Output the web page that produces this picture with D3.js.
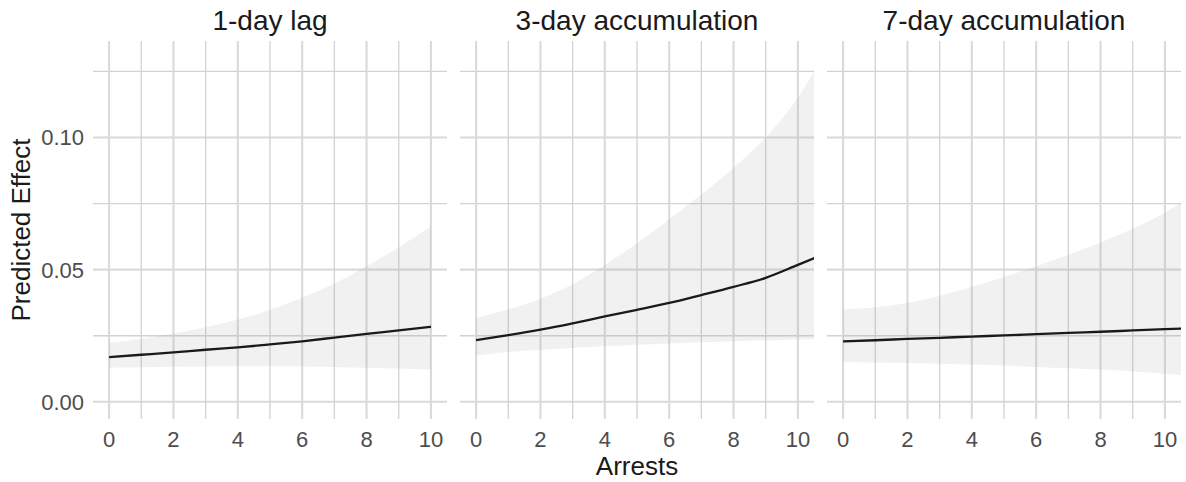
<!DOCTYPE html>
<html>
<head>
<meta charset="utf-8">
<script src="https://cdn.jsdelivr.net/npm/d3@7"></script>
<style>
  html, body { margin: 0; padding: 0; background: #fff; }
  svg { display: block; }
  text { font-family: "Liberation Sans", Arial, Helvetica, sans-serif; }
</style>
</head>
<body>
<svg id="chart" width="1186" height="482"></svg>
<script>
// ---- Data ----
const panelTitles = ["1-day lag", "3-day accumulation", "7-day accumulation"];
const arrests1 = [0, 1, 2, 3, 4, 5, 6, 7, 8, 9, 10];
const arrests = [0, 1, 2, 3, 4, 5, 6, 7, 8, 9, 10, 11];

const lag1Fit = [0.0169, 0.0178, 0.0187, 0.0197, 0.0206, 0.0217, 0.0229, 0.0243, 0.0257, 0.0270, 0.0284];
const lag1Lo  = [0.0129, 0.0131, 0.0133, 0.0134, 0.0135, 0.0135, 0.0134, 0.0132, 0.0129, 0.0126, 0.0122];
const lag1Hi  = [0.0223, 0.0238, 0.0258, 0.0282, 0.0311, 0.0348, 0.0394, 0.0448, 0.0513, 0.0585, 0.0663];

const acc3Fit = [0.0233, 0.0252, 0.0273, 0.0297, 0.0323, 0.0348, 0.0374, 0.0404, 0.0435, 0.0469, 0.0518, 0.0568];
const acc3Lo  = [0.0175, 0.0188, 0.0197, 0.0204, 0.0210, 0.0216, 0.0221, 0.0225, 0.0229, 0.0233, 0.0236, 0.0240];
const acc3Hi  = [0.0318, 0.0350, 0.0390, 0.0445, 0.0518, 0.0600, 0.0690, 0.0785, 0.0885, 0.1000, 0.1150, 0.1360];

const acc7Fit = [0.0229, 0.0233, 0.0238, 0.0242, 0.0247, 0.0251, 0.0256, 0.0261, 0.0265, 0.0270, 0.0275, 0.0279];
const acc7Lo  = [0.0151, 0.0149, 0.0147, 0.0144, 0.0141, 0.0137, 0.0132, 0.0127, 0.0122, 0.0116, 0.0106, 0.0097];
const acc7Hi  = [0.0349, 0.0358, 0.0374, 0.0400, 0.0435, 0.0472, 0.0513, 0.0556, 0.0603, 0.0655, 0.0715, 0.0800];

const xTickLabels = [0, 2, 4, 6, 8, 10];
const xMinorTicks = [1, 3, 5, 7, 9];
const yTickLabels = [0.00, 0.05, 0.10];
const yMinorTicks = [0.025, 0.075, 0.125];

const xLabel = "Arrests";
const yLabel = "Predicted Effect";

// ---- Build ----
const panels = [
  { title: panelTitles[0], x: arrests1, fit: lag1Fit, lo: lag1Lo, hi: lag1Hi },
  { title: panelTitles[1], x: arrests,  fit: acc3Fit, lo: acc3Lo, hi: acc3Hi },
  { title: panelTitles[2], x: arrests,  fit: acc7Fit, lo: acc7Lo, hi: acc7Hi }
];

const svg = d3.select("#chart");
const panelLeft = [93, 460, 827];
const panelW = 354;
const panelTop = 41, panelBottom = 419;

const y = d3.scaleLinear().domain([-0.0065, 0.1365]).range([panelBottom, panelTop]);

const majorColor = "#dadada", minorColor = "#d2d2d2";
const majorW = 2.1, minorW = 1.3;

panels.forEach((p, i) => {
  const x = d3.scaleLinear().domain([-0.5, 10.5]).range([panelLeft[i], panelLeft[i] + panelW]);
  const g = svg.append("g");

  const cid = "clip" + i;
  svg.append("defs").append("clipPath").attr("id", cid)
    .append("rect").attr("x", panelLeft[i]).attr("y", panelTop)
    .attr("width", panelW).attr("height", panelBottom - panelTop);

  // horizontal grid
  g.selectAll(".hmin").data(yMinorTicks).enter().append("line")
    .attr("x1", panelLeft[i]).attr("x2", panelLeft[i] + panelW)
    .attr("y1", d => y(d)).attr("y2", d => y(d))
    .attr("stroke", minorColor).attr("stroke-width", minorW);
  g.selectAll(".hmaj").data(yTickLabels).enter().append("line")
    .attr("x1", panelLeft[i]).attr("x2", panelLeft[i] + panelW)
    .attr("y1", d => y(d)).attr("y2", d => y(d))
    .attr("stroke", majorColor).attr("stroke-width", majorW);
  // vertical grid
  g.selectAll(".vmin").data(xMinorTicks).enter().append("line")
    .attr("x1", d => x(d)).attr("x2", d => x(d))
    .attr("y1", panelTop).attr("y2", panelBottom)
    .attr("stroke", minorColor).attr("stroke-width", minorW);
  g.selectAll(".vmaj").data(xTickLabels).enter().append("line")
    .attr("x1", d => x(d)).attr("x2", d => x(d))
    .attr("y1", panelTop).attr("y2", panelBottom)
    .attr("stroke", majorColor).attr("stroke-width", majorW);

  const pts = p.x.map((v, k) => ({ x: v, fit: p.fit[k], lo: p.lo[k], hi: p.hi[k] }));
  const dg = svg.append("g").attr("clip-path", `url(#${cid})`);

  dg.append("path").datum(pts)
    .attr("d", d3.area().x(d => x(d.x)).y0(d => y(d.lo)).y1(d => y(d.hi)).curve(d3.curveMonotoneX))
    .attr("fill", "#999999").attr("fill-opacity", 0.14);

  dg.append("path").datum(pts)
    .attr("d", d3.line().x(d => x(d.x)).y(d => y(d.fit)).curve(d3.curveMonotoneX))
    .attr("fill", "none").attr("stroke", "#1a1a1a").attr("stroke-width", 2.3);

  // x tick labels
  svg.append("g").selectAll("text").data(xTickLabels).enter().append("text")
    .attr("x", d => x(d)).attr("y", 447)
    .attr("text-anchor", "middle")
    .attr("font-size", 22).attr("fill", "#4d4d4d")
    .text(d => d);

  // strip title
  svg.append("text")
    .attr("x", panelLeft[i] + panelW / 2).attr("y", 30)
    .attr("text-anchor", "middle")
    .attr("font-size", 28).attr("fill", "#1a1a1a")
    .text(p.title);
});

// y tick labels
svg.append("g").selectAll("text").data(yTickLabels).enter().append("text")
  .attr("x", 84).attr("y", d => y(d)).attr("dy", "0.36em")
  .attr("text-anchor", "end")
  .attr("font-size", 22).attr("fill", "#4d4d4d")
  .text(d => d3.format(".2f")(d));

// axis titles
svg.append("text")
  .attr("x", (panelLeft[0] + panelLeft[2] + panelW) / 2).attr("y", 475)
  .attr("text-anchor", "middle").attr("font-size", 26).attr("fill", "#1a1a1a")
  .text(xLabel);

svg.append("text")
  .attr("transform", `translate(30, ${(panelTop + panelBottom) / 2}) rotate(-90)`)
  .attr("text-anchor", "middle").attr("font-size", 26).attr("fill", "#1a1a1a")
  .text(yLabel);
</script>
</body>
</html>
